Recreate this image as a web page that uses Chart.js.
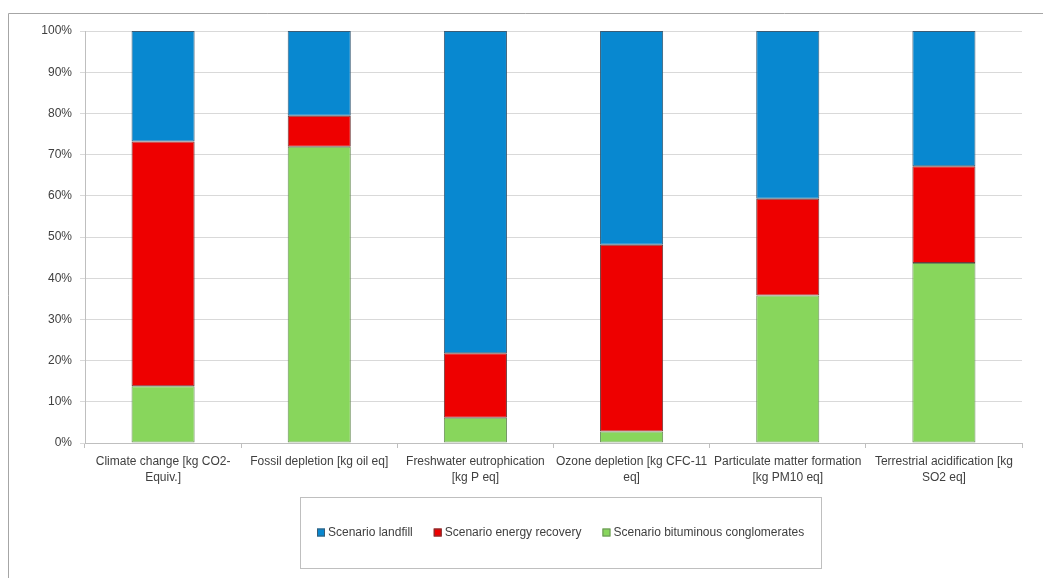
<!DOCTYPE html>
<html>
<head>
<meta charset="utf-8">
<script src="https://cdn.jsdelivr.net/npm/chart.js@4/dist/chart.umd.min.js"></script>
<style>
  html, body { margin: 0; padding: 0; background: #ffffff; }
  #wrap { width: 1043px; height: 578px; position: relative; }
</style>
</head>
<body>
<div id="wrap"><canvas id="c" width="1043" height="578"></canvas></div>
<script>
// Impact categories (x axis), two-line labels
const categories = [
  ['Climate change [kg CO2-', 'Equiv.]'],
  ['Fossil depletion [kg oil eq]'],
  ['Freshwater eutrophication', '[kg P eq]'],
  ['Ozone depletion [kg CFC-11', 'eq]'],
  ['Particulate matter formation', '[kg PM10 eq]'],
  ['Terrestrial acidification [kg', 'SO2 eq]']
];

// Share of each scenario per category (%), stacked bottom to top
const bituminous     = [13.8, 71.9, 6.1, 2.8, 35.8, 43.7];
const energyRecovery = [59.4, 7.5, 15.7, 45.3, 23.5, 23.5];
const landfill       = [26.8, 20.6, 78.2, 51.9, 40.7, 32.8];

// Y axis tick values (%)
const yTickValues = [0, 10, 20, 30, 40, 50, 60, 70, 80, 90, 100];

// Legend order as listed under the chart
const legendOrder = [2, 1, 0];

const FONT = "'Liberation Sans', Arial, sans-serif";
const FONT_SIZE = 12;
const TEXT = '#404040';

// Outer frame of the chart object (top and left edges)
const framePlugin = {
  id: 'frame',
  beforeDraw(chart) {
    const ctx = chart.ctx;
    ctx.save();
    ctx.fillStyle = '#ffffff';
    ctx.fillRect(0, 0, chart.width, chart.height);
    ctx.strokeStyle = '#a6a6a6';
    ctx.lineWidth = 1;
    ctx.beginPath();
    ctx.moveTo(8.5, chart.height);
    ctx.lineTo(8.5, 13.5);
    ctx.lineTo(chart.width, 13.5);
    ctx.stroke();
    ctx.restore();
  }
};

// Boxed legend below the axis labels
const boxLegendPlugin = {
  id: 'boxLegend',
  afterDraw(chart) {
    const ctx = chart.ctx;
    const box = { x: 300, y: 497, w: 521, h: 71 };
    ctx.save();
    ctx.strokeStyle = '#bfbfbf';
    ctx.lineWidth = 1;
    ctx.strokeRect(box.x + 0.5, box.y + 0.5, box.w, box.h);
    ctx.font = FONT_SIZE + 'px ' + FONT;
    ctx.textBaseline = 'middle';
    ctx.textAlign = 'left';
    const cy = box.y + box.h / 2;
    let x = 317;
    legendOrder.forEach(i => {
      const ds = chart.data.datasets[i];
      ctx.fillStyle = ds.backgroundColor;
      ctx.fillRect(x, cy - 4, 8, 8);
      ctx.strokeStyle = ds.borderColor;
      ctx.strokeRect(x + 0.5, cy - 3.5, 7, 7);
      ctx.fillStyle = TEXT;
      ctx.fillText(ds.label, x + 11, cy + 0.5);
      x += 11 + ctx.measureText(ds.label).width + 21;
    });
    ctx.restore();
  }
};

new Chart(document.getElementById('c'), {
  type: 'bar',
  data: {
    labels: categories,
    datasets: [
      {
        label: 'Scenario bituminous conglomerates',
        data: bituminous,
        backgroundColor: '#88d65c',
        borderColor: '#6b8f5a'
      },
      {
        label: 'Scenario energy recovery',
        data: energyRecovery,
        backgroundColor: '#ee0000',
        borderColor: '#6e3a3a'
      },
      {
        label: 'Scenario landfill',
        data: landfill,
        backgroundColor: '#0888d0',
        borderColor: '#3a5c75'
      }
    ]
  },
  options: {
    responsive: false,
    animation: false,
    devicePixelRatio: 1,
    layout: { padding: { left: 0, top: 31, right: 21, bottom: 85 } },
    datasets: {
      bar: {
        borderWidth: 1,
        borderSkipped: false,
        categoryPercentage: 1,
        barPercentage: 0.404
      }
    },
    plugins: {
      legend: { display: false },
      tooltip: { enabled: false },
      title: { display: false }
    },
    scales: {
      x: {
        stacked: true,
        offset: true,
        grid: {
          offset: true,
          drawOnChartArea: false,
          drawTicks: true,
          tickLength: 5,
          color: '#bfbfbf'
        },
        border: { color: '#bfbfbf' },
        ticks: {
          color: TEXT,
          font: { family: FONT, size: FONT_SIZE, lineHeight: 1.375 },
          padding: 5,
          maxRotation: 0,
          autoSkip: false
        },
        afterFit(scale) { scale.height = 50; }
      },
      y: {
        stacked: true,
        min: 0,
        max: 100,
        afterBuildTicks(scale) {
          scale.ticks = yTickValues.map(v => ({ value: v }));
        },
        grid: {
          color: '#d9d9d9',
          tickLength: 5,
          drawTicks: true
        },
        border: { color: '#bfbfbf' },
        ticks: {
          color: TEXT,
          font: { family: FONT, size: FONT_SIZE },
          padding: 8,
          callback: v => v + '%'
        },
        afterFit(scale) { scale.width = 85; }
      }
    }
  },
  plugins: [framePlugin, boxLegendPlugin]
});
</script>
</body>
</html>
